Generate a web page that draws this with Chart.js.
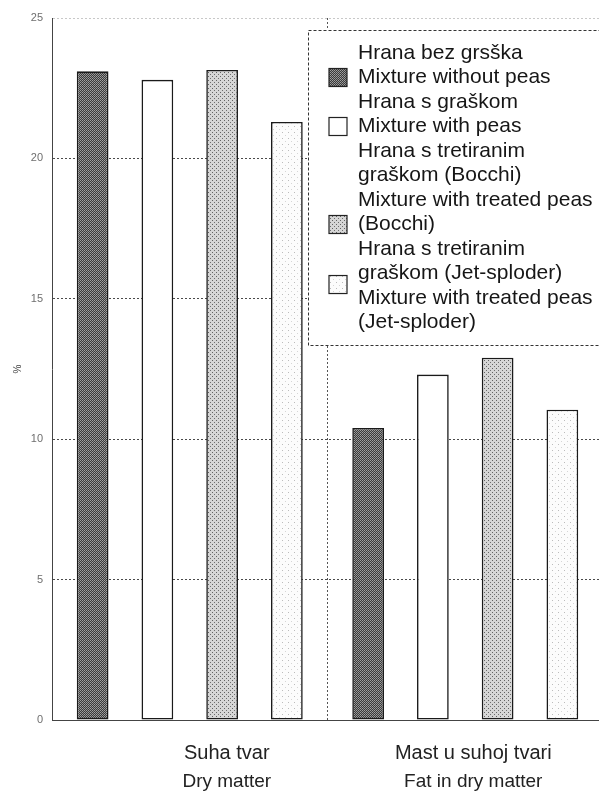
<!DOCTYPE html>
<html>
<head>
<meta charset="utf-8">
<script src="https://cdn.jsdelivr.net/npm/chart.js@4.4.1/dist/chart.umd.min.js"></script>
<style>
    html, body { margin: 0; padding: 0; background: #fff; overflow: hidden; }
    #wrap { position: relative; width: 606px; height: 791px; }
</style>
</head>
<body>
<div id="wrap"><canvas id="chart"></canvas></div>
<script>
// kategorije (dvojezicno)
const categories = [
    ['Suha tvar', 'Dry matter'],
    ['Mast u suhoj tvari', 'Fat in dry matter']
];

// legenda, redovi teksta po seriji
const seriesLabels = [
    ['Hrana bez grsška', 'Mixture without peas'],
    ['Hrana s graškom', 'Mixture with peas'],
    ['Hrana s tretiranim', 'graškom (Bocchi)', 'Mixture with treated peas', '(Bocchi)'],
    ['Hrana s tretiranim', 'graškom (Jet-sploder)', 'Mixture with treated peas', '(Jet-sploder)']
];

// vrijednosti u %
const withoutPeas = [23.1, 10.4];
const withPeas = [22.8, 12.3];
const treatedBocchi = [23.15, 12.9];
const treatedJet = [21.3, 11.05];

const yTicks = [0, 5, 10, 15, 20, 25];


/**
 * napravi uzorak za stupce
 */
function makePattern(size, bg, dots) {
    let c = document.createElement('canvas');
    c.width = size;
    c.height = size;
    let g = c.getContext('2d');
    g.fillStyle = bg;
    g.fillRect(0, 0, size, size);
    for (let i = 0; i < dots.length; i++) {
        g.fillStyle = dots[i][2];
        g.fillRect(dots[i][0], dots[i][1], 1, 1);
    }
    return g.createPattern(c, 'repeat');
}

const patDark = makePattern(2, '#3a3a3a', [
    [0, 0, '#a0a0a0'], [1, 1, '#8c8c8c']
]);
const patWhite = '#ffffff';
const patBocchi = makePattern(4, '#d6d6d6', [
    [0, 0, '#626262'], [2, 2, '#6e6e6e']
]);
const patJet = makePattern(6, '#fcfcfc', [
    [0, 0, '#bcbcbc'], [3, 3, '#d6d6d6']
]);

const fills = [patDark, patWhite, patBocchi, patJet];
const seriesValues = [withoutPeas, withPeas, treatedBocchi, treatedJet];

// legenda nacrtana unutar isprekidanog okvira
const boxLegend = {
    id: 'boxLegend',
    afterDraw(chart, args, opts) {
        let ctx = chart.ctx;
        ctx.save();
        ctx.setLineDash([3, 2]);
        ctx.strokeStyle = '#333';
        ctx.lineWidth = 1;
        ctx.fillStyle = '#fff';
        ctx.fillRect(opts.left, opts.top, opts.width, opts.height);
        ctx.strokeRect(opts.left + 0.5, opts.top + 0.5, opts.width, opts.height);
        ctx.setLineDash([]);

        ctx.font = opts.font;
        ctx.textBaseline = 'middle';
        let y = opts.top + opts.firstLine;
        let datasets = chart.data.datasets;
        for (let i = 0; i < datasets.length; i++) {
            let lines = datasets[i].legendLines;
            let swatchY = y + opts.swatchRow[i] * opts.lineHeight;
            ctx.fillStyle = datasets[i].backgroundColor;
            ctx.fillRect(opts.swatchX, swatchY - opts.swatch / 2, opts.swatch, opts.swatch);
            ctx.strokeStyle = '#222';
            ctx.lineWidth = 1.2;
            ctx.strokeRect(opts.swatchX, swatchY - opts.swatch / 2, opts.swatch, opts.swatch);
            ctx.fillStyle = '#161616';
            for (let j = 0; j < lines.length; j++) {
                ctx.fillText(lines[j], opts.textX, y);
                y += opts.lineHeight;
            }
        }
        ctx.restore();
    }
};

// nazivi kategorija ispod osi
const categoryLabels = {
    id: 'categoryLabels',
    afterDraw(chart, args, opts) {
        let ctx = chart.ctx;
        let xScale = chart.scales.x;
        ctx.save();
        ctx.textAlign = 'center';
        ctx.textBaseline = 'middle';
        ctx.fillStyle = '#222';
        for (let i = 0; i < categories.length; i++) {
            let x = xScale.getPixelForValue(i) + opts.shift[i];
            ctx.font = opts.font1;
            ctx.fillText(categories[i][0], x, chart.chartArea.bottom + opts.line1);
            ctx.font = opts.font2;
            ctx.fillText(categories[i][1], x, chart.chartArea.bottom + opts.line2);
        }
        ctx.restore();
    }
};

let datasets = [];
for (let i = 0; i < seriesValues.length; i++) {
    datasets.push({
        label: seriesLabels[i].join(' '),
        legendLines: seriesLabels[i],
        data: seriesValues[i],
        backgroundColor: fills[i],
        borderColor: '#1a1a1a',
        borderWidth: 1.6,
        borderSkipped: false,
        categoryPercentage: 0.94,
        barPercentage: 0.49
    });
}

let ctx = document.getElementById('chart').getContext('2d');
let chart = new Chart(ctx, {
    type: 'bar',
    data: {
        labels: categories.map(c => c.join(' ')),
        datasets: datasets
    },
    plugins: [boxLegend, categoryLabels],
    options: {
        responsive: true,
        maintainAspectRatio: false,
        animation: false,
        layout: { padding: { top: 18, right: 3, left: 0, bottom: 0 } },
        scales: {
            x: {
                grid: {
                    color: '#555',
                    lineWidth: 1,
                    drawTicks: false
                },
                border: { display: true, color: '#444', dash: [2, 2], width: 1 },
                ticks: { display: false },
                afterFit: function (scale) { scale.height = 71; }
            },
            y: {
                min: 0,
                max: 25,
                afterBuildTicks: function (scale) {
                    scale.ticks = yTicks.map(v => ({ value: v }));
                },
                grid: {
                    color: (c) => (c.tick && c.tick.value == 25) ? '#c8c8c8' : '#4a4a4a',
                    lineWidth: 1,
                    drawTicks: false
                },
                border: { display: true, color: '#444', dash: [2, 2], width: 1 },
                ticks: {
                    padding: 9,
                    color: '#6e6e6e',
                    font: { family: 'Liberation Sans', size: 11 }
                },
                title: {
                    display: true,
                    text: '%',
                    color: '#444',
                    font: { family: 'Liberation Sans', size: 10 },
                    padding: { top: 12, bottom: 0 }
                },
                afterFit: function (scale) { scale.width = 52; }
            }
        },
        plugins: {
            legend: { display: false },
            tooltip: { enabled: false },
            boxLegend: {
                left: 308,
                top: 30,
                width: 310,
                height: 315,
                firstLine: 23,
                lineHeight: 24.5,
                textX: 358,
                swatchX: 329,
                swatch: 18,
                swatchRow: [1, 1, 3, 1.45],
                font: '21px "Liberation Sans", Arial, sans-serif'
            },
            categoryLabels: {
                shift: [37, 8],
                line1: 33,
                line2: 62,
                font1: '20px "Liberation Sans", Arial, sans-serif',
                font2: '19px "Liberation Sans", Arial, sans-serif'
            }
        }
    }
});
</script>
</body>
</html>
